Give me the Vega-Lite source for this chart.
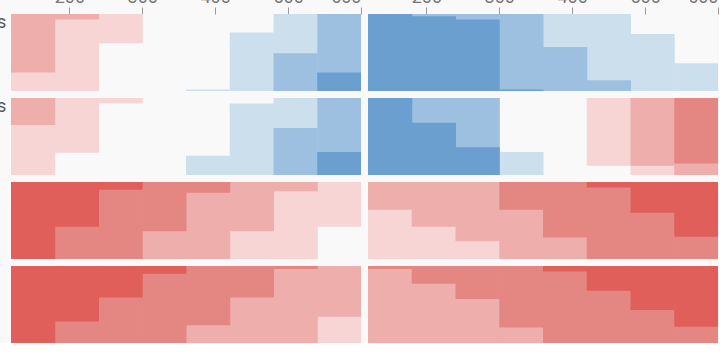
{
  "$schema": "https://vega.github.io/schema/vega-lite/v6.json",
  "background": "#f9f9f9",
  "padding": {"left": -4, "top": -12, "right": 0, "bottom": 0},
  "data": {"values": [
    {"row": "r1", "col": "c1", "t0": 120, "t1": 180, "v": -1.76},
    {"row": "r1", "col": "c1", "t0": 180, "t1": 240, "v": -1.07},
    {"row": "r1", "col": "c1", "t0": 240, "t1": 300, "v": -0.38},
    {"row": "r1", "col": "c1", "t0": 300, "t1": 360, "v": 0},
    {"row": "r1", "col": "c1", "t0": 360, "t1": 420, "v": 0.02},
    {"row": "r1", "col": "c1", "t0": 420, "t1": 480, "v": 0.76},
    {"row": "r1", "col": "c1", "t0": 480, "t1": 540, "v": 1.49},
    {"row": "r1", "col": "c1", "t0": 540, "t1": 600, "v": 2.24},
    {"row": "r1", "col": "c2", "t0": 120, "t1": 180, "v": 3.0},
    {"row": "r1", "col": "c2", "t0": 180, "t1": 240, "v": 2.97},
    {"row": "r1", "col": "c2", "t0": 240, "t1": 300, "v": 2.93},
    {"row": "r1", "col": "c2", "t0": 300, "t1": 360, "v": 2.02},
    {"row": "r1", "col": "c2", "t0": 360, "t1": 420, "v": 1.57},
    {"row": "r1", "col": "c2", "t0": 420, "t1": 480, "v": 1.14},
    {"row": "r1", "col": "c2", "t0": 480, "t1": 540, "v": 0.74},
    {"row": "r1", "col": "c2", "t0": 540, "t1": 600, "v": 0.36},
    {"row": "r2", "col": "c1", "t0": 120, "t1": 180, "v": -1.35},
    {"row": "r2", "col": "c1", "t0": 180, "t1": 240, "v": -0.71},
    {"row": "r2", "col": "c1", "t0": 240, "t1": 300, "v": -0.07},
    {"row": "r2", "col": "c1", "t0": 300, "t1": 360, "v": 0},
    {"row": "r2", "col": "c1", "t0": 360, "t1": 420, "v": 0.25},
    {"row": "r2", "col": "c1", "t0": 420, "t1": 480, "v": 0.93},
    {"row": "r2", "col": "c1", "t0": 480, "t1": 540, "v": 1.61},
    {"row": "r2", "col": "c1", "t0": 540, "t1": 600, "v": 2.3},
    {"row": "r2", "col": "c2", "t0": 120, "t1": 180, "v": 3.0},
    {"row": "r2", "col": "c2", "t0": 180, "t1": 240, "v": 2.68},
    {"row": "r2", "col": "c2", "t0": 240, "t1": 300, "v": 2.36},
    {"row": "r2", "col": "c2", "t0": 300, "t1": 360, "v": 0.3},
    {"row": "r2", "col": "c2", "t0": 360, "t1": 420, "v": 0},
    {"row": "r2", "col": "c2", "t0": 420, "t1": 480, "v": -0.88},
    {"row": "r2", "col": "c2", "t0": 480, "t1": 540, "v": -1.88},
    {"row": "r2", "col": "c2", "t0": 540, "t1": 600, "v": -2.85},
    {"row": "r3", "col": "c1", "t0": 120, "t1": 180, "v": -4.0},
    {"row": "r3", "col": "c1", "t0": 180, "t1": 240, "v": -3.58},
    {"row": "r3", "col": "c1", "t0": 240, "t1": 300, "v": -3.1},
    {"row": "r3", "col": "c1", "t0": 300, "t1": 360, "v": -2.64},
    {"row": "r3", "col": "c1", "t0": 360, "t1": 420, "v": -2.14},
    {"row": "r3", "col": "c1", "t0": 420, "t1": 480, "v": -1.64},
    {"row": "r3", "col": "c1", "t0": 480, "t1": 540, "v": -1.12},
    {"row": "r3", "col": "c1", "t0": 540, "t1": 600, "v": -0.58},
    {"row": "r3", "col": "c2", "t0": 120, "t1": 180, "v": -1.36},
    {"row": "r3", "col": "c2", "t0": 180, "t1": 240, "v": -1.58},
    {"row": "r3", "col": "c2", "t0": 240, "t1": 300, "v": -1.77},
    {"row": "r3", "col": "c2", "t0": 300, "t1": 360, "v": -2.36},
    {"row": "r3", "col": "c2", "t0": 360, "t1": 420, "v": -2.72},
    {"row": "r3", "col": "c2", "t0": 420, "t1": 480, "v": -3.07},
    {"row": "r3", "col": "c2", "t0": 480, "t1": 540, "v": -3.4},
    {"row": "r3", "col": "c2", "t0": 540, "t1": 600, "v": -3.71},
    {"row": "r4", "col": "c1", "t0": 120, "t1": 180, "v": -4.03},
    {"row": "r4", "col": "c1", "t0": 180, "t1": 240, "v": -3.72},
    {"row": "r4", "col": "c1", "t0": 240, "t1": 300, "v": -3.41},
    {"row": "r4", "col": "c1", "t0": 300, "t1": 360, "v": -3.1},
    {"row": "r4", "col": "c1", "t0": 360, "t1": 420, "v": -2.77},
    {"row": "r4", "col": "c1", "t0": 420, "t1": 480, "v": -2.41},
    {"row": "r4", "col": "c1", "t0": 480, "t1": 540, "v": -2.04},
    {"row": "r4", "col": "c1", "t0": 540, "t1": 600, "v": -1.66},
    {"row": "r4", "col": "c2", "t0": 120, "t1": 180, "v": -2.04},
    {"row": "r4", "col": "c2", "t0": 180, "t1": 240, "v": -2.23},
    {"row": "r4", "col": "c2", "t0": 240, "t1": 300, "v": -2.43},
    {"row": "r4", "col": "c2", "t0": 300, "t1": 360, "v": -2.8},
    {"row": "r4", "col": "c2", "t0": 360, "t1": 420, "v": -3.07},
    {"row": "r4", "col": "c2", "t0": 420, "t1": 480, "v": -3.32},
    {"row": "r4", "col": "c2", "t0": 480, "t1": 540, "v": -3.57},
    {"row": "r4", "col": "c2", "t0": 540, "t1": 600, "v": -3.79}
  ]},
  "facet": {
    "row": {"field": "row", "type": "nominal", "title": null,
      "header": {"labelExpr": "datum.value == 'r1' || datum.value == 'r2' ? 's' : ''", "labelAngle": 0, "labelAlign": "right", "labelAnchor": "end", "labelBaseline": "top", "labelPadding": -4.5, "labelFontSize": 18, "labelColor": "#555555", "labelFont": "Roboto"}},
    "column": {"field": "col", "type": "nominal", "title": null, "header": {"labels": false}}
  },
  "spacing": {"row": 7, "column": 7},
  "spec": {
    "width": 350,
    "height": 77,
    "encoding": {
      "x": {"field": "t0", "type": "quantitative", "scale": {"domain": [120, 600], "nice": false, "zero": false},
        "axis": {"orient": "top", "values": [200, 300, 400, 500, 600], "domain": false, "grid": false, "tickSize": 7, "tickColor": "#999999", "labelFontSize": 18, "labelColor": "#777777", "labelFont": "Roboto", "labelPadding": 1, "title": null}},
      "x2": {"field": "t1"},
      "y2": {"datum": 0}
    },
    "layer": [
      {"mark": {"type": "rect", "clip": true, "color": "#cbdfed", "x2Offset": 0.5}, "encoding": {"y": {"field": "v", "type": "quantitative", "scale": {"domain": [0, 1], "nice": false, "zero": false}, "axis": null}}},
      {"mark": {"type": "rect", "clip": true, "color": "#9dc0e0", "x2Offset": 0.5}, "encoding": {"y": {"field": "v", "type": "quantitative", "scale": {"domain": [1, 2], "nice": false, "zero": false}, "axis": null}}},
      {"mark": {"type": "rect", "clip": true, "color": "#6a9fcf", "x2Offset": 0.5}, "encoding": {"y": {"field": "v", "type": "quantitative", "scale": {"domain": [2, 3], "nice": false, "zero": false}, "axis": null}}},
      {"mark": {"type": "rect", "clip": true, "color": "#3f7fbf", "x2Offset": 0.5}, "encoding": {"y": {"field": "v", "type": "quantitative", "scale": {"domain": [3, 4], "nice": false, "zero": false}, "axis": null}}},
      {"mark": {"type": "rect", "clip": true, "color": "#f6d5d4", "x2Offset": 0.5}, "encoding": {"y": {"field": "v", "type": "quantitative", "scale": {"domain": [-1, 0], "nice": false, "zero": false}, "axis": null}}},
      {"mark": {"type": "rect", "clip": true, "color": "#eeaeac", "x2Offset": 0.5}, "encoding": {"y": {"field": "v", "type": "quantitative", "scale": {"domain": [-2, -1], "nice": false, "zero": false}, "axis": null}}},
      {"mark": {"type": "rect", "clip": true, "color": "#e48681", "x2Offset": 0.5}, "encoding": {"y": {"field": "v", "type": "quantitative", "scale": {"domain": [-3, -2], "nice": false, "zero": false}, "axis": null}}},
      {"mark": {"type": "rect", "clip": true, "color": "#e05f5b", "x2Offset": 0.5}, "encoding": {"y": {"field": "v", "type": "quantitative", "scale": {"domain": [-4, -3], "nice": false, "zero": false}, "axis": null}}}
    ],
    "resolve": {"scale": {"y": "independent"}}
  },
  "config": {"view": {"stroke": null}}
}
